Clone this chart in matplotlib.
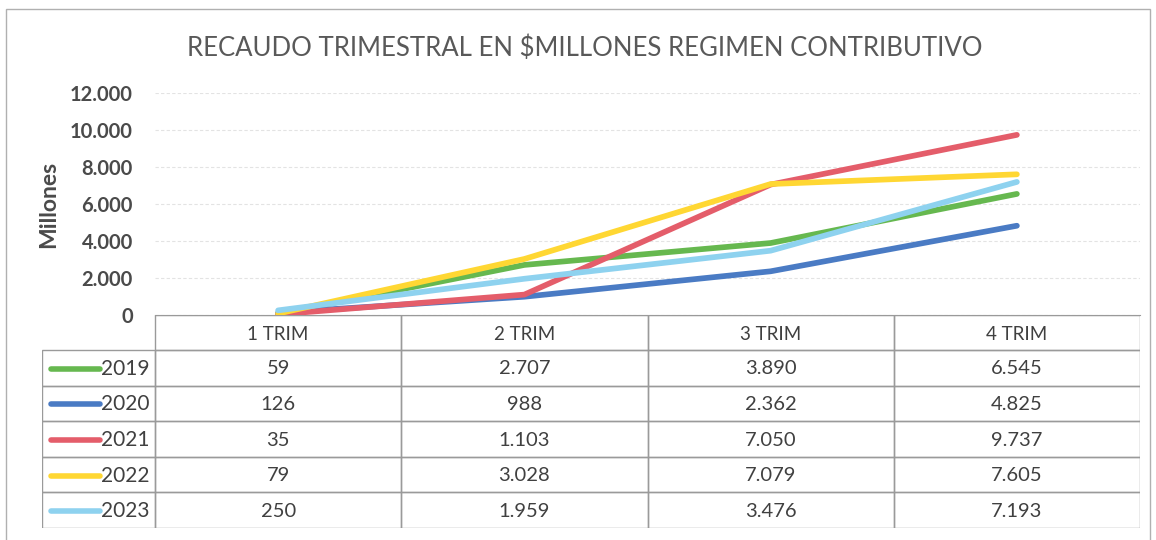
import matplotlib
matplotlib.use('Agg')
import matplotlib.pyplot as plt
from matplotlib.patches import Rectangle
from matplotlib.ticker import FuncFormatter
import numpy as np

categories = ['1 TRIM', '2 TRIM', '3 TRIM', '4 TRIM']
years = ['2019', '2020', '2021', '2022', '2023']
v2019 = [59, 2707, 3890, 6545]
v2020 = [126, 988, 2362, 4825]
v2021 = [35, 1103, 7050, 9737]
v2022 = [79, 3028, 7079, 7605]
v2023 = [250, 1959, 3476, 7193]
series = [v2019, v2020, v2021, v2022, v2023]
colors = ['#66b84f', '#4a7bc4', '#e45d6a', '#ffd733', '#8ed2ef']

TXT = '#404040'
FONT = ['Lato', 'DejaVu Sans']


def miles(v, _=None):
    return f'{v:,.0f}'.replace(',', '.')


W, H = 1156, 540
fig = plt.figure(figsize=(W / 100, H / 100), dpi=100)

# plot area (pixel coords from the reference)
px_l, px_r, px_top, px_bot = 155, 1140, 93, 315
ax = fig.add_axes([px_l / W, 1 - px_bot / H, (px_r - px_l) / W, (px_bot - px_top) / H])
x = np.arange(len(categories))
for vals, c in zip(series, colors):
    ax.plot(x, vals, color=c, lw=4.1, solid_capstyle='round', zorder=3)
ax.set_xlim(-0.5, len(categories) - 0.5)
ax.set_ylim(0, 12000)
ax.set_yticks(np.arange(0, 12001, 2000))
ax.yaxis.set_major_formatter(FuncFormatter(miles))
ax.set_xticks([])
ax.tick_params(axis='y', length=0, pad=16, labelsize=14.5, labelcolor='#4a4a4a')
for lab in ax.get_yticklabels():
    lab.set_fontweight('bold')
    lab.set_family(FONT)
ax.grid(True, axis='y', color='#e3e3e3', lw=0.8, linestyle=(0, (3, 2)))
for s in ['top', 'right', 'left']:
    ax.spines[s].set_visible(False)
ax.spines['bottom'].set_color('#9a9a9a')
ax.set_ylabel('Millones', fontsize=16.5, fontweight='bold', color='#4a4a4a', family=FONT,
              labelpad=8)

# data table under the plot, sharing the category x positions
cat_w = (px_r - px_l) / len(categories)
leg_l = 42
tab_top, tab_bot = 315, 528
tax = fig.add_axes([leg_l / W, 1 - tab_bot / H, (px_r - leg_l) / W, (tab_bot - tab_top) / H])
x0 = -0.5 - (px_l - leg_l) / cat_w
tax.set_xlim(x0, len(categories) - 0.5)
head_h = 35 / (tab_bot - tab_top) * 6
nrow = len(years)
row_h = (6 - head_h) / nrow
tax.set_ylim(6, 0)
tax.axis('off')
gc = '#9a9a9a'
# header cells
for i, cat in enumerate(categories):
    tax.add_patch(Rectangle((i - 0.5, 0), 1, head_h, fill=False, ec=gc, lw=1))
    tax.text(i, head_h / 2 + 0.05, cat, ha='center', va='center', fontsize=13.5,
             color=TXT, family=FONT)
# data rows
for r, (yr, vals, c) in enumerate(zip(years, series, colors)):
    y0 = head_h + r * row_h
    yc = y0 + row_h / 2 + 0.03
    tax.add_patch(Rectangle((x0, y0), -0.5 - x0, row_h, fill=False, ec=gc, lw=1))
    tax.plot([x0 + 0.035, x0 + 0.235], [yc, yc], color=c, lw=4, solid_capstyle='round')
    tax.text(x0 + 0.24, yc, yr, ha='left', va='center', fontsize=15, color=TXT, family=FONT)
    for i, v in enumerate(vals):
        tax.add_patch(Rectangle((i - 0.5, y0), 1, row_h, fill=False, ec=gc, lw=1))
        tax.text(i, yc, miles(v), ha='center', va='center', fontsize=14.5, color=TXT,
                 family=FONT)

fig.text(585 / W, 1 - 48 / H, 'RECAUDO TRIMESTRAL EN $MILLONES REGIMEN CONTRIBUTIVO',
         ha='center', va='center', fontsize=18.5, color='#595959', family=FONT)

# outer frame of the scanned chart box
fig.add_artist(Rectangle((6 / W, -0.01), (1150 - 6) / W, 1 - 9 / H + 0.01,
                         transform=fig.transFigure, fill=False, ec='#b0b0b0', lw=1))

fig.savefig('out.png', dpi=100)
